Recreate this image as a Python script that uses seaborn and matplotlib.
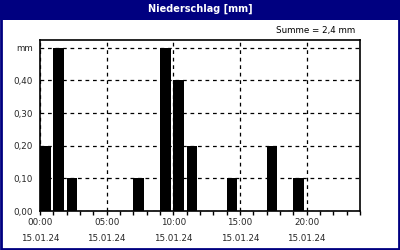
import matplotlib
matplotlib.use("Agg")
import matplotlib.pyplot as plt
from matplotlib.patches import Rectangle
import seaborn as sns
import pandas as pd
import numpy as np

# ---- data ----
hours = [0, 1, 2, 7, 9, 10, 11, 14, 17, 19]          # start hour of each bar
precip = [0.2, 0.5, 0.1, 0.1, 0.5, 0.4, 0.2, 0.1, 0.2, 0.1]
x_ticks = [0, 5, 10, 15, 20]
x_tick_labels = ["00:00\n15.01.24", "05:00\n15.01.24", "10:00\n15.01.24",
                 "15:00\n15.01.24", "20:00\n15.01.24"]
y_ticks = [0.0, 0.1, 0.2, 0.3, 0.4, 0.5]
y_tick_labels = ["0,00", "0,10", "0,20", "0,30", "0,40", "mm"]
title = "Niederschlag [mm]"
summary = "Summe = 2,4 mm"

sns.set_style("white")
plt.rcParams["font.family"] = ["DejaVu Sans"]

NAVY = "#000080"
fig = plt.figure(figsize=(4, 2.5), dpi=100)
fig.patch.set_facecolor("white")

# title bar and outer frame
fig.patches.append(Rectangle((0, 0.92), 1, 0.08, transform=fig.transFigure,
                             facecolor=NAVY, edgecolor="none", zorder=0))
fig.patches.append(Rectangle((0.0025, 0.004), 0.995, 0.994, transform=fig.transFigure,
                             facecolor="none", edgecolor=NAVY, linewidth=2, zorder=5))
fig.text(0.5, 0.963, title, color="white", fontsize=7, fontweight="bold",
         ha="center", va="center")
fig.text(0.888, 0.876, summary, color="black", fontsize=6.3, ha="right", va="center")

ax = fig.add_axes([0.1, 0.156, 0.8, 0.684])
df = pd.DataFrame({"center": np.array(hours) + 0.4, "mm": precip})
sns.barplot(data=df, x="center", y="mm", native_scale=True, width=0.8,
            color="black", saturation=1, linewidth=0, errorbar=None, ax=ax, zorder=3)

ax.set_xlim(0, 24)
ax.set_ylim(0, 0.524)
ax.set_xlabel("")
ax.set_ylabel("")
ax.set_xticks(x_ticks)
ax.set_xticklabels(x_tick_labels, fontsize=6.3, linespacing=2.0)
ax.set_xticks(range(0, 25), minor=True)
ax.set_yticks(y_ticks)
ax.set_yticklabels(y_tick_labels, fontsize=6.3)
ax.tick_params(axis="x", which="both", direction="out", length=3, width=1,
               color="black", pad=2, bottom=True)
ax.tick_params(axis="y", length=0, pad=5)
ax.grid(True, which="major", color="black", linestyle=(0, (3, 3)), linewidth=0.9)
ax.set_axisbelow(True)
for s in ax.spines.values():
    s.set_visible(True)
    s.set_color("black")
    s.set_linewidth(1.2)
ax.set_facecolor("white")

fig.savefig("out.png", dpi=100)
